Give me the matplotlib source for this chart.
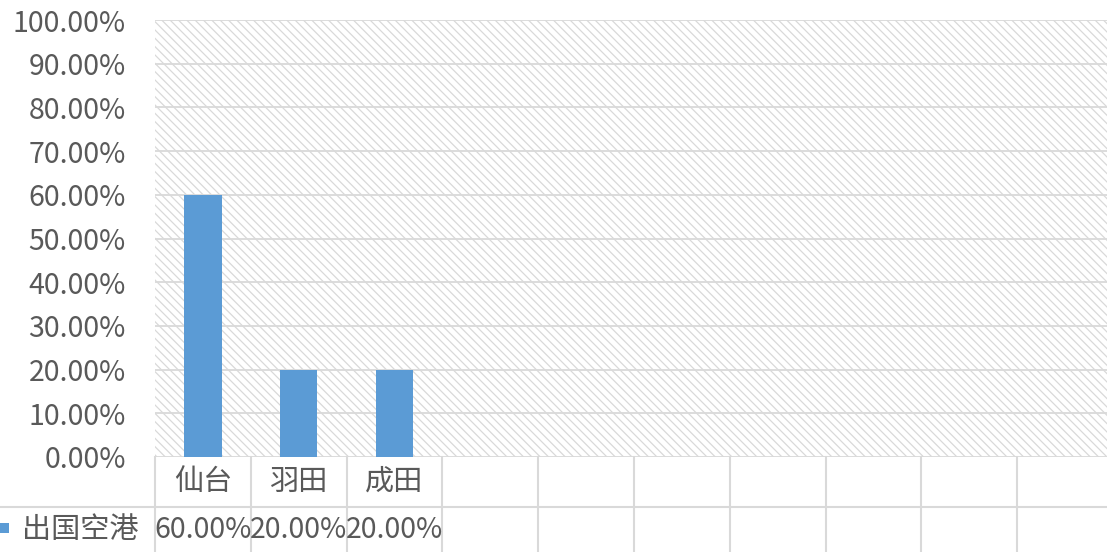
import matplotlib.pyplot as plt
import matplotlib.transforms as mtransforms
from matplotlib.patches import Rectangle

plt.rcParams['font.family'] = ['Noto Sans CJK SC', 'DejaVu Sans']
plt.rcParams['hatch.color'] = '#d9d9d9'
plt.rcParams['hatch.linewidth'] = 0.9

# data
categories = ['仙台', '羽田', '成田', '', '', '', '', '', '', '']
values = [0.60, 0.20, 0.20, None, None, None, None, None, None, None]
series_name = '出国空港'
y_ticks = [i / 10 for i in range(11)]

W, H = 1107, 552
fig = plt.figure(figsize=(W / 100, H / 100), dpi=100)

# plot area (runs a little past the right edge, like the sheet it came from)
left, right, top, bottom = 155, 1113, 20, 457
ax = fig.add_axes([left / W, 1 - bottom / H, (right - left) / W, (bottom - top) / H])

grid_c = '#d9d9d9'
text_c = '#595959'
bar_c = '#5b9bd5'
num_fs = 20.5
cjk_fs = 21

# hatched background
ax.add_patch(Rectangle((0, 0), 1, 1, transform=ax.transAxes, facecolor='white',
                       hatch='\\\\\\\\', edgecolor='#d9d9d9', linewidth=0, zorder=0))

n = len(categories)
xs = list(range(n))
for x, v in zip(xs, values):
    if v is not None:
        ax.bar(x, v, width=0.39, color=bar_c, zorder=3)

ax.set_xlim(-0.5, n - 0.5)
ax.set_ylim(0, 1)
ax.set_yticks(y_ticks)
ax.set_yticklabels([f'{t * 100:.2f}%' for t in y_ticks])
ax.tick_params(axis='y', length=0, pad=21, labelsize=num_fs, labelcolor=text_c)
ax.set_xticks([])
for t in y_ticks:
    ax.axhline(t, color=grid_c, linewidth=1.3, zorder=2)
for s in ax.spines.values():
    s.set_visible(False)

# data table under the axis
lw = 1.5
trans = mtransforms.blended_transform_factory(ax.transData, fig.transFigure)
row1_bot = 1 - 507 / H
for i in range(n + 1):
    ax.plot([i - 0.5, i - 0.5], [1 - bottom / H, 0], transform=trans, color=grid_c,
            linewidth=lw, clip_on=False, zorder=1)
fig.add_artist(plt.Line2D([0, 1], [row1_bot, row1_bot], color=grid_c, linewidth=lw))

for x, c, v in zip(xs, categories, values):
    ax.text(x, 1 - 482 / H, c, transform=trans, ha='center', va='center',
            fontsize=cjk_fs, color=text_c)
    if v is not None:
        ax.text(x, 1 - 530 / H, f'{v * 100:.2f}%', transform=trans, ha='center',
                va='center', fontsize=num_fs, color=text_c)

# legend key in the table row header
fig.add_artist(Rectangle((0, 1 - 533 / H), 9 / W, 10 / H, facecolor=bar_c,
                         edgecolor='none', transform=fig.transFigure))
fig.text(22 / W, 1 - 530 / H, series_name, ha='left', va='center',
         fontsize=cjk_fs, color=text_c)

fig.savefig('out.png', dpi=100)
